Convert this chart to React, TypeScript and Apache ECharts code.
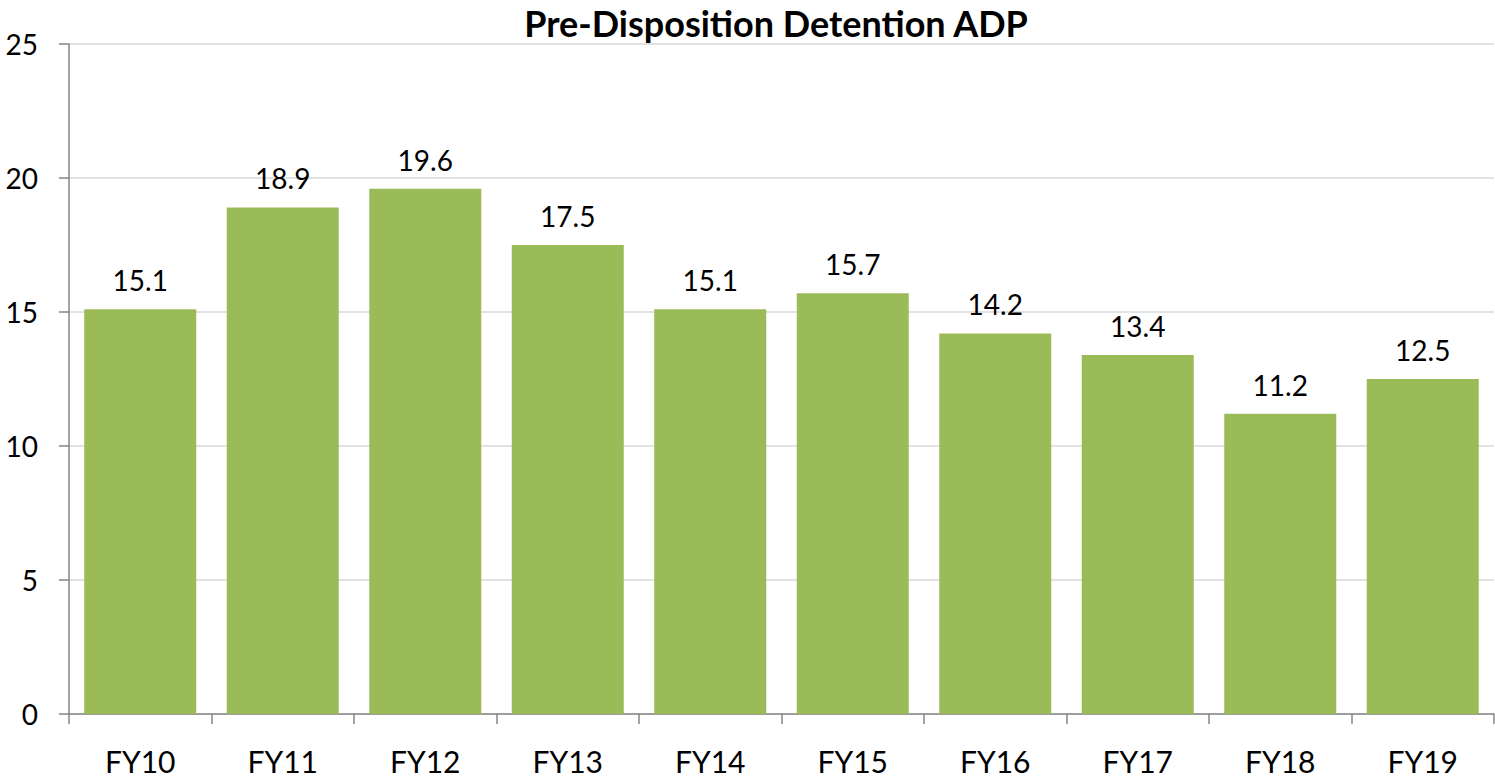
import React, { useEffect, useRef } from "react";
import * as echarts from "echarts";

const categories = ["FY10", "FY11", "FY12", "FY13", "FY14", "FY15", "FY16", "FY17", "FY18", "FY19"];
const values = [15.1, 18.9, 19.6, 17.5, 15.1, 15.7, 14.2, 13.4, 11.2, 12.5];
const chartTitle = "Pre-Disposition Detention ADP";

export default function App() {
  const ref = useRef<HTMLDivElement>(null);
  useEffect(() => {
    if (!ref.current) return;
    const chart = echarts.init(ref.current, null, { renderer: "svg" });
    const font = "Lato, 'Open Sans', sans-serif";
    chart.setOption({
      animation: false,
      title: {
        text: chartTitle,
        left: 771,
        top: 0,
        textAlign: "center",
        textStyle: { fontFamily: font, fontWeight: "bold", fontSize: 36, color: "#000" },
      },
      grid: { left: 69, right: 1, top: 44, bottom: 64, containLabel: false },
      xAxis: {
        type: "category",
        data: categories,
        axisLine: { lineStyle: { color: "#868686", width: 1.5 } },
        axisTick: { show: true, length: 10, alignWithLabel: false, lineStyle: { color: "#868686", width: 1.5 } },
        axisLabel: { fontFamily: font, fontSize: 30, color: "#000", margin: 32 },
      },
      yAxis: {
        type: "value",
        min: 0,
        max: 25,
        interval: 5,
        axisLine: { show: true, lineStyle: { color: "#868686", width: 1.5 } },
        axisTick: { show: true, length: 10, lineStyle: { color: "#868686", width: 1.5 } },
        axisLabel: { fontFamily: font, fontSize: 28, color: "#000", margin: 31 },
        splitLine: { lineStyle: { color: "#D9D9D9", width: 1.5 } },
      },
      series: [
        {
          type: "bar",
          data: values,
          barWidth: 112,
          itemStyle: { color: "#9BBB59" },
          label: {
            show: true,
            position: "top",
            distance: 15,
            fontFamily: font,
            fontSize: 28,
            color: "#000",
            formatter: (p: any) => p.value.toFixed(1),
          },
        },
      ],
    });
    return () => chart.dispose();
  }, []);
  return <div ref={ref} style={{ width: 1495, height: 778, position: "absolute", left: 0, top: 0, background: "#fff" }} />;
}
